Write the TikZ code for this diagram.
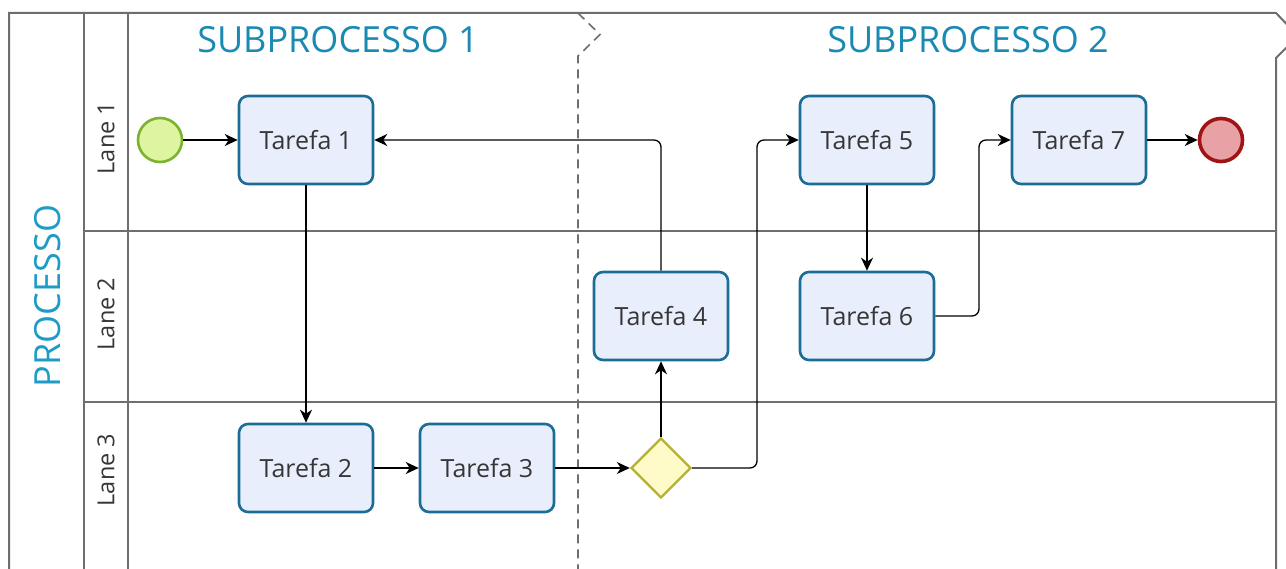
\documentclass[tikz,border=0pt]{standalone}
\usepackage{fontspec}
\setmainfont{Open Sans}
\usetikzlibrary{arrows.meta,shapes.geometric}
\definecolor{titleblue}{HTML}{1A8AB3}
\definecolor{procblue}{HTML}{1E9CC6}
\definecolor{taskfill}{HTML}{E9EEFC}
\definecolor{taskdraw}{HTML}{1C6D96}
\definecolor{startfill}{HTML}{DDF5A0}
\definecolor{startdraw}{HTML}{7BB32E}
\definecolor{endfill}{HTML}{E8A2A6}
\definecolor{enddraw}{HTML}{A01414}
\definecolor{gatefill}{HTML}{FFFBC9}
\definecolor{gatedraw}{HTML}{B3B233}
\definecolor{textgray}{HTML}{363636}
\definecolor{poolgray}{HTML}{6E6E6E}
\tikzset{
  task/.style={draw=taskdraw, fill=taskfill, line width=2.6pt, rounded corners=9pt,
    minimum width=134pt, minimum height=88pt, inner sep=0pt, text=textgray,
    font=\fontsize{25}{30}\selectfont},
  startev/.style={circle, draw=startdraw, fill=startfill, line width=2.6pt, minimum size=44pt, inner sep=0pt},
  endev/.style={circle, draw=enddraw, fill=endfill, line width=3.6pt, minimum size=43pt, inner sep=0pt},
  gate/.style={diamond, draw=gatedraw, fill=gatefill, line width=2.4pt, minimum width=60pt, minimum height=60pt, inner sep=0pt},
  flow/.style={draw=black, line width=1.3pt, -{Stealth[length=13pt,width=12pt,inset=4pt]}},
  poolline/.style={draw=poolgray, line width=2pt},
  laneline/.style={draw=poolgray, line width=1.3pt},
  divider/.style={draw=poolgray, line width=1.6pt, dash pattern=on 9pt off 6pt},
  lanelabel/.style={rotate=90, text=textgray, font=\fontsize{23.5}{28}\selectfont, inner sep=0pt},
  titlelabel/.style={text=titleblue, font=\fontsize{36}{42}\selectfont, inner sep=0pt},
}
\begin{document}
\begin{tikzpicture}[x=1pt,y=-1pt]
\useasboundingbox (0,0) rectangle (1286,569);
\fill[white] (0,0) rectangle (1286,569);
\clip (0,0) rectangle (1286,569);
% pool frame
\draw[poolline] (1276,600) -- (1276,58) -- (1298,36) -- (1276,13) -- (9,13) -- (9,600);
\draw[laneline] (84,13) -- (84,600);
\draw[laneline] (128,13) -- (128,600);
\draw[laneline] (84,231) -- (1276,231);
\draw[laneline] (84,402) -- (1276,402);
\draw[divider] (578,13) -- (600,34.5) -- (578,56) -- (578,600);
% labels
\node[rotate=90, text=procblue, font=\fontsize{36}{42}\selectfont, inner sep=0pt] (proc) at (48,296) {PROCESSO};
\node[lanelabel] (l1) at (106,138) {Lane 1};
\node[lanelabel] (l2) at (106,314) {Lane 2};
\node[lanelabel] (l3) at (106,470) {Lane 3};
\node[titlelabel] (sp1) at (338,40) {SUBPROCESSO 1};
\node[titlelabel] (sp2) at (968,40) {SUBPROCESSO 2};
% elements
\node[startev] (s) at (160,140) {};
\node[task] (t1) at (306,140) {Tarefa 1};
\node[task] (t2) at (306,468) {Tarefa 2};
\node[task] (t3) at (487,468) {Tarefa 3};
\node[gate] (g) at (661,468) {};
\node[task] (t4) at (661,316) {Tarefa 4};
\node[task] (t5) at (867,140) {Tarefa 5};
\node[task] (t6) at (867,316) {Tarefa 6};
\node[task] (t7) at (1079,140) {Tarefa 7};
\node[endev] (e) at (1221,140) {};
\coordinate (c1) at (757,468);
\coordinate (c2) at (979,316);
% flows
\draw[flow] (s) -- (t1);
\draw[flow] (t1) -- (t2);
\draw[flow] (t2) -- (t3);
\draw[flow] (t3) -- (g);
\draw[flow] (g) -- (t4);
\draw[flow, rounded corners=7pt] (t4.north) |- (t1.east);
\draw[flow, rounded corners=7pt] (g.east) -- (c1) |- (t5.west);
\draw[flow] (t5) -- (t6);
\draw[flow, rounded corners=7pt] (t6.east) -- (c2) |- (t7.west);
\draw[flow] (t7) -- (e);
\end{tikzpicture}
\end{document}
